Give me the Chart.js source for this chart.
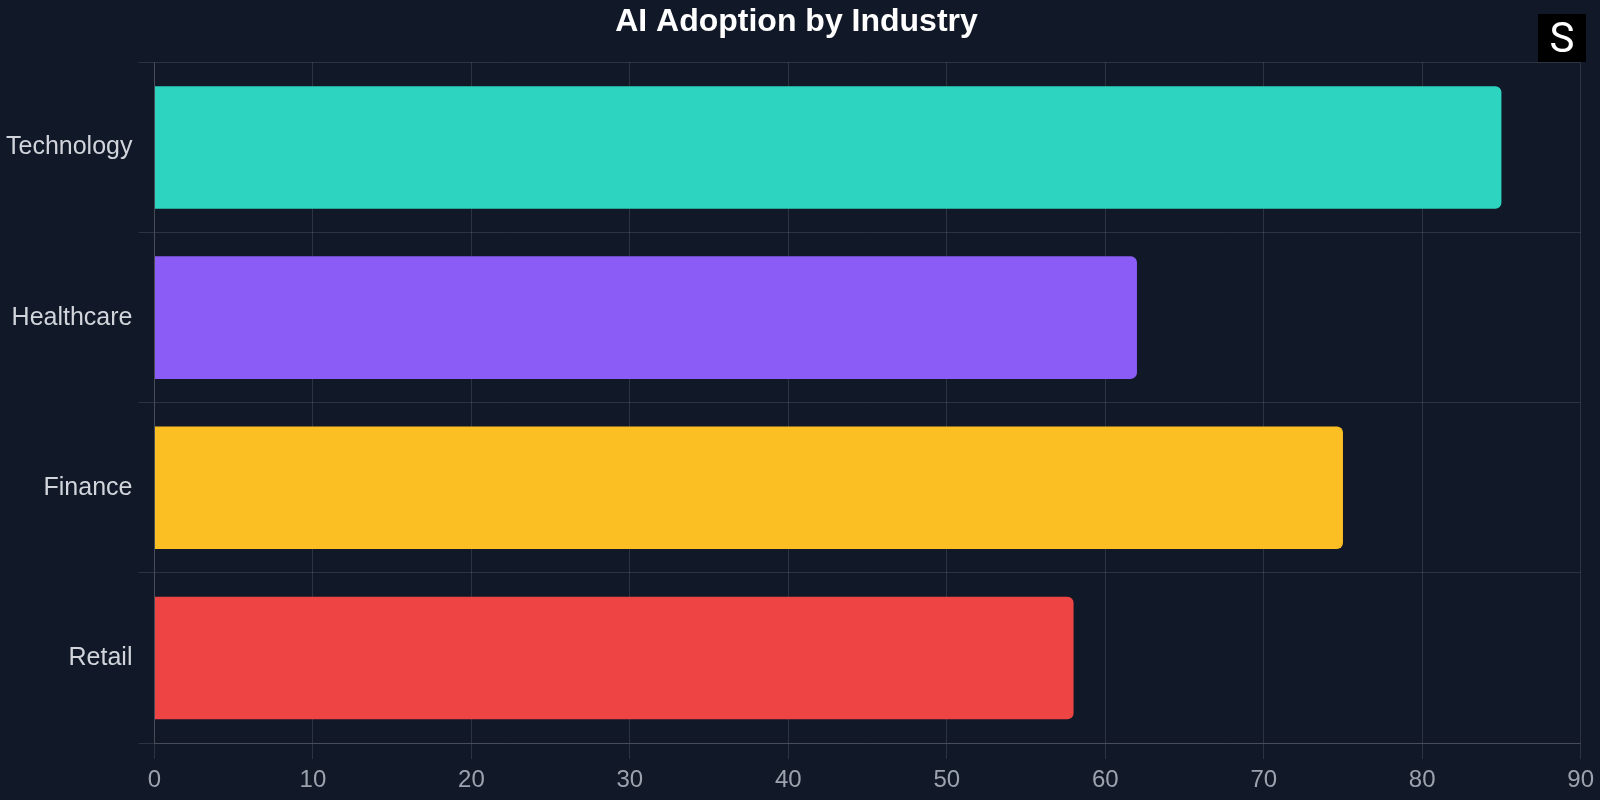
<!DOCTYPE html>
<html>
<head>
<meta charset="utf-8">
<script src="https://cdn.jsdelivr.net/npm/chart.js@4/dist/chart.umd.min.js"></script>
<style>
  html, body { margin:0; padding:0; background:#111827; }
  #wrap { position:relative; width:1600px; height:800px; }
  #logo { position:absolute; left:1538px; top:14px; width:48px; height:48px; background:#000; color:#fff;
          font-family: Roboto, "Noto Sans", sans-serif; font-size:42px; line-height:48px; text-align:center; z-index:2; }
</style>
</head>
<body>
<div id="wrap">
  <canvas id="c" width="1600" height="800"></canvas>
  <div id="logo">S</div>
</div>
<script>
const categories = ["Technology", "Healthcare", "Finance", "Retail"];
const adoption = [85, 62, 75, 58];
const barColors = ["#2dd4bf", "#8b5cf6", "#fbbf24", "#ef4444"];
const titleText = "AI Adoption by Industry";

const FONT = '"Liberation Sans", Arial, Helvetica, sans-serif';
const grid = 'rgba(255,255,255,0.12)';

new Chart(document.getElementById('c'), {
  type: 'bar',
  data: {
    labels: categories,
    datasets: [{
      data: adoption,
      backgroundColor: barColors,
      borderWidth: 0,
      borderRadius: 6,
      borderSkipped: 'start'
    }]
  },
  options: {
    indexAxis: 'y',
    responsive: false,
    animation: false,
    devicePixelRatio: 1,
    layout: { padding: { left: 0, right: 7, top: 0, bottom: -1 } },
    plugins: {
      legend: { display: false },
      tooltip: { enabled: false },
      title: {
        display: true,
        text: titleText,
        color: '#ffffff',
        font: { family: FONT, size: 32, weight: 'bold' },
        padding: { top: 3, bottom: 21 }
      }
    },
    scales: {
      x: {
        min: 0, max: 90,
        ticks: { stepSize: 10, color: '#9ca3af', font: { family: FONT, size: 24, lineHeight: 1.25 }, padding: 6, maxRotation: 0, minRotation: 0 },
        grid: { color: grid, tickLength: 16 },
        border: { color: grid }
      },
      y: {
        ticks: { color: '#d1d5db', font: { family: FONT, size: 25 }, padding: 6 },
        grid: { color: grid, tickLength: 16 },
        border: { color: grid }
      }
    }
  }
});
</script>
</body>
</html>
